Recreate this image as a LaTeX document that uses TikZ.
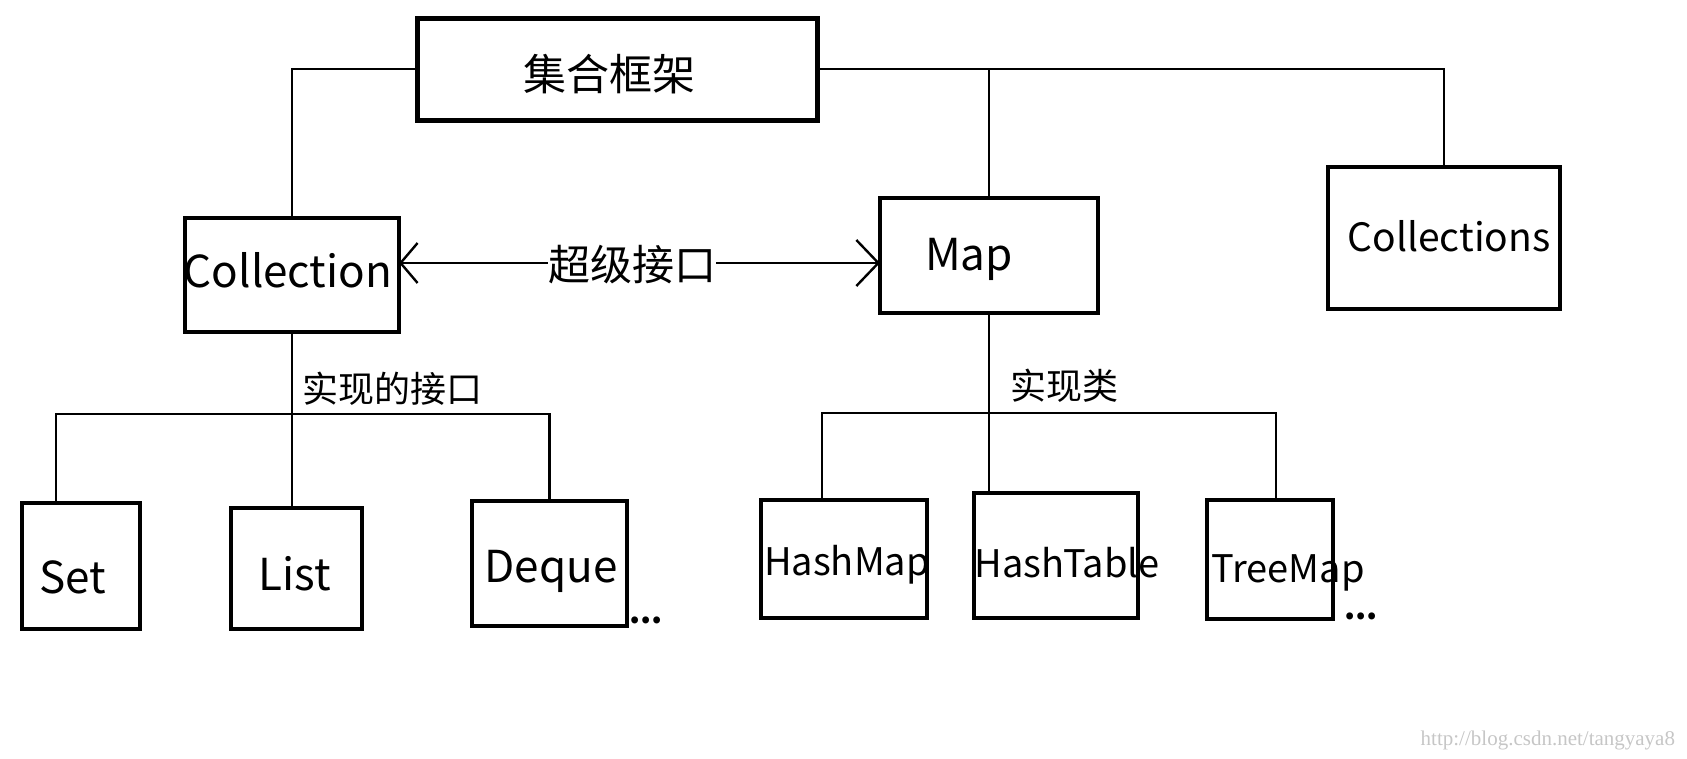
\documentclass[tikz,border=0pt]{standalone}
\usepackage{fontspec}
\setmainfont{Noto Sans CJK SC}
\newfontfamily\wmfont{Liberation Serif}
\usetikzlibrary{arrows.meta}
\newcommand\fsz[1]{\fontsize{#1}{#1}\selectfont}
\begin{document}
\begin{tikzpicture}[x=1pt,y=-1pt,
  box/.style={draw, line width=3.1pt, inner sep=0pt, outer sep=0pt},
  conn/.style={line width=2.9pt},
  lbl/.style={inner sep=0pt, outer sep=0pt},
  bigtxt/.style={lbl, font=\fsz{44}},
  midtxt/.style={lbl, font=\fsz{38}},
  cjk/.style={lbl, font=\fsz{36}},
]
\useasboundingbox (0,0) rectangle (1687,758);
% boxes
\node[box, line width=5pt, minimum width=400pt, minimum height=102pt] (root) at (617,69) {};
\node[box, minimum width=214pt, minimum height=114pt] (coll) at (292,275) {};
\node[box, minimum width=218pt, minimum height=115pt] (map) at (989,255.5) {};
\node[box, minimum width=232pt, minimum height=142pt] (colls) at (1444,238) {};
\node[box, minimum width=118pt, minimum height=126pt] (set) at (81,566) {};
\node[box, minimum width=131pt, minimum height=121pt] (list) at (296.5,568.5) {};
\node[box, minimum width=155pt, minimum height=125pt] (deque) at (549.5,563.5) {};
\node[box, minimum width=166pt, minimum height=118pt] (hm) at (844,559) {};
\node[box, minimum width=164pt, minimum height=125pt] (ht) at (1056,555.5) {};
\node[box, minimum width=126pt, minimum height=119pt] (tm) at (1270,559.5) {};
% texts
\node[lbl, font=\fsz{43}] (troot) at (609,74) {集合框架};
\node[bigtxt, anchor=base] (tcoll) at (288,287) {Collection};
\node[bigtxt, anchor=base] (tmap) at (969,270) {Map};
\node[lbl, font=\fsz{39}, anchor=base] (tcolls) at (1449,251) {Collections};
\node[bigtxt, anchor=base] (tset) at (73,593) {Set};
\node[bigtxt, anchor=base] (tlist) at (295,590) {List};
\node[bigtxt, anchor=base] (tdeque) at (551,582) {Deque};
\node[midtxt, anchor=base] (thm) at (847,575) {HashMap};
\node[midtxt, anchor=base] (tht) at (1067,577) {HashTable};
\node[midtxt, anchor=base] (ttm) at (1288,582) {TreeMap};
\node[lbl, font=\fsz{32}\bfseries, anchor=base] (dots1) at (646,623) {...};
\node[lbl, font=\fsz{32}\bfseries, anchor=base] (dots2) at (1361,619) {...};
\node[cjk] (lif) at (392,389) {实现的接口};
\node[cjk] (lcls) at (1064,386) {实现类};
\node[lbl, anchor=base east, text=gray!45, font=\wmfont\fsz{21}] (wm) at (1675,745) {http://blog.csdn.net/tangyaya8};
% connectors from the root
\draw[conn] (root.west) -| (coll.north);
\draw[conn] (root.east) -| (colls.north);
\draw[conn] (map.north) -- (map.north |- root.east);
% super-interface arrow
\draw[conn, {Straight Barb[length=17pt,width=40pt,line width=2.4pt]}-{Straight Barb[length=22pt,width=46pt,line width=2.4pt]}]
  ([yshift=12pt]coll.east) -- ([yshift=-7.5pt]map.west);
\node[lbl, fill=white, font=\fsz{42}] (lsuper) at (632,265) {超级接口};
% Collection subtree
\coordinate (cb) at (292,414);
\draw[conn] (coll.south) -- (coll.south |- list.north);
\draw[conn] ([xshift=34pt]set.north west) |- (deque.north |- cb) -- (deque.north);
% Map subtree
\coordinate (mb) at (988,413);
\draw[conn] (map.south) -- ([yshift=2pt]map.south |- ht.north);
\draw[conn] ([xshift=61pt]hm.north west) |- ([xshift=69pt]tm.north west |- mb) -- ([xshift=69pt]tm.north west);
\end{tikzpicture}
\end{document}
